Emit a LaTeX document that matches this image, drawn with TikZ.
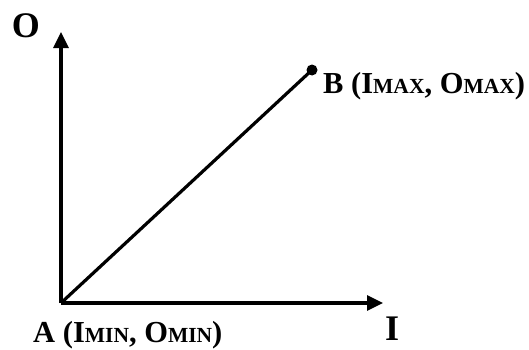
\documentclass[tikz,border=0pt]{standalone}
\usepackage{fontspec}
\setmainfont{Liberation Serif}
\usepackage{tikz}
\usetikzlibrary{arrows.meta, positioning}
\newcommand{\smc}[1]{{\fontsize{21.5}{21.5}\selectfont #1}}
\tikzset{
    axis/.style={line width=3.2pt, -{Triangle[length=16pt,width=15pt]}},
    lbl/.style={font=\bfseries\fontsize{30.5}{30.5}\selectfont, inner sep=0pt},
    axlbl/.style={font=\bfseries\fontsize{36}{36}\selectfont, inner sep=0pt}
}

\begin{document}
\begin{tikzpicture}[x=1pt, y=1pt]
                \useasboundingbox (0,0) rectangle (529,349);
                \coordinate (A) at (61,46);
                \coordinate (B) at (312,279);
                \coordinate (Otip) at (61,317);
                \coordinate (Itip) at (383,46);
                \draw[axis] (A) -- (Otip);
                \draw[axis] (A) -- (Itip);
                \draw[line width=3.2pt] (A) -- (B);
                \fill (B) circle (5.5pt);
                \node[axlbl] (Olbl) at (26,323) {O};
                \node[axlbl] (Ilbl) at (392,20) {I};
                \node[lbl, anchor=base west] (Albl) at (33,7) {A (I\smc{MIN}, O\smc{MIN})};
                \node[lbl, anchor=base west] (Blbl) at (323,256) {B (I\smc{MAX}, O\smc{MAX})};
            \end{tikzpicture}
\end{document}
